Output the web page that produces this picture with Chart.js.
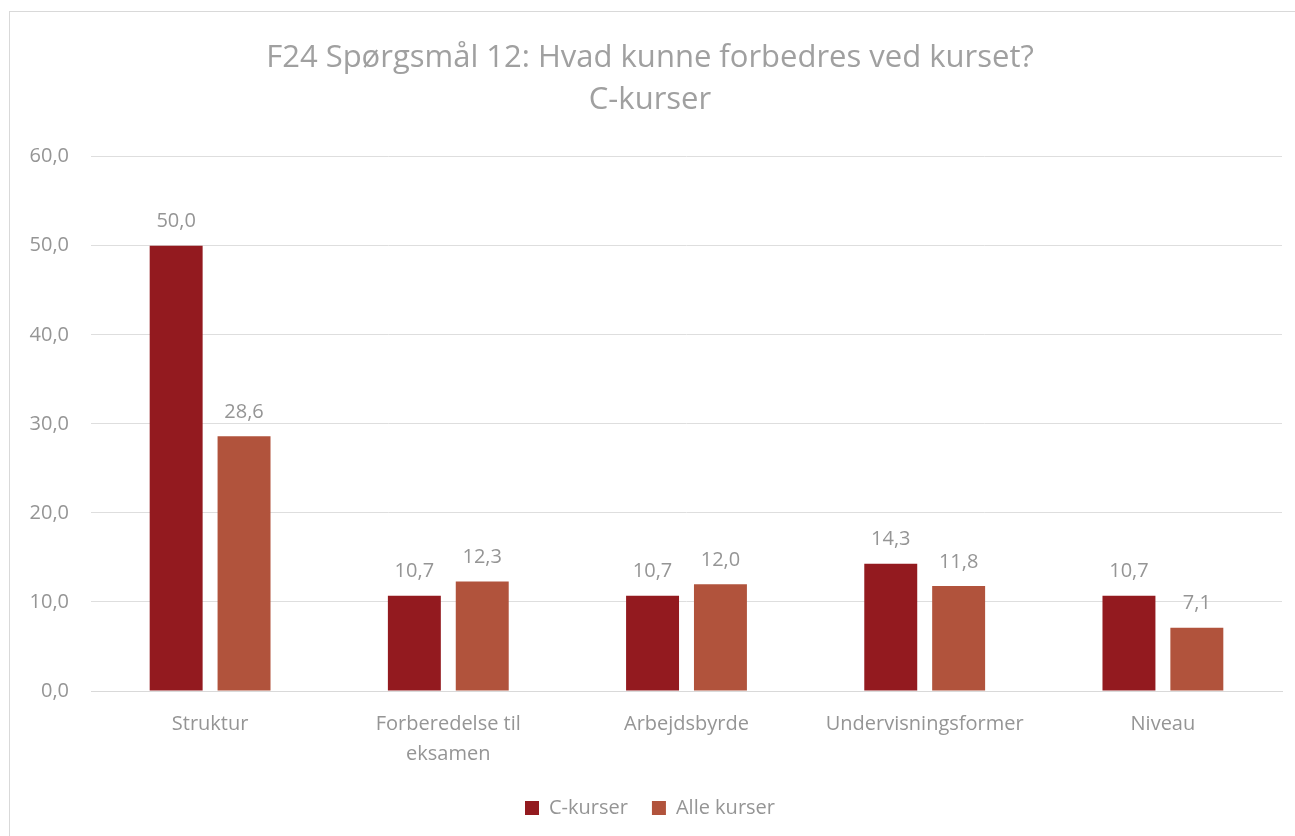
<!DOCTYPE html>
<html>
<head>
<meta charset="utf-8">
<script src="https://cdn.jsdelivr.net/npm/chart.js@4.4.1/dist/chart.umd.min.js"></script>
<style>
html,body{margin:0;padding:0;background:#fff;}
#wrap{position:absolute;left:0;top:0;width:1295px;height:836px;}
#frame{position:absolute;left:9px;top:11px;width:1300px;height:840px;border:1px solid #d9d9d9;box-sizing:border-box;}
canvas{position:absolute;left:0;top:0;}
</style>
</head>
<body>
<div id="wrap">
<div id="frame"></div>
<canvas id="c" width="1295" height="836"></canvas>
</div>
<script>
const categories = ['Struktur', ['Forberedelse til', 'eksamen'], 'Arbejdsbyrde', 'Undervisningsformer', 'Niveau'];
const seriesNames = ['C-kurser', 'Alle kurser'];
const cKurser = [50.0, 10.7, 10.7, 14.3, 10.7];
const alleKurser = [28.6, 12.3, 12.0, 11.8, 7.1];
const yTicks = [0, 10, 20, 30, 40, 50, 60];
const titleLines = ['F24 Spørgsmål 12: Hvad kunne forbedres ved kurset?', 'C-kurser'];

const fmt = v => v.toFixed(1).replace('.', ',');
const FONT = "'Open Sans', 'Noto Sans', sans-serif";
const GRAY = '#959595';

const labelPlugin = {
  id: 'valueLabels',
  afterDatasetsDraw(chart) {
    const ctx = chart.ctx;
    ctx.save();
    ctx.font = '20px ' + FONT;
    ctx.fillStyle = GRAY;
    ctx.textAlign = 'center';
    ctx.textBaseline = 'middle';
    chart.data.datasets.forEach((ds, i) => {
      chart.getDatasetMeta(i).data.forEach((bar, j) => {
        ctx.fillText(fmt(ds.data[j]), bar.x, bar.y - 24);
      });
    });
    ctx.restore();
  }
};

new Chart(document.getElementById('c'), {
  type: 'bar',
  data: {
    labels: categories,
    datasets: [
      { label: seriesNames[0], data: cKurser, backgroundColor: '#931a1f' },
      { label: seriesNames[1], data: alleKurser, backgroundColor: '#b1533c' }
    ]
  },
  options: {
    responsive: false,
    animation: false,
    devicePixelRatio: 1,
    layout: { padding: { left: 18, right: 13, top: 37, bottom: 8 } },
    datasets: { bar: { categoryPercentage: 0.57, barPercentage: 0.78 } },
    plugins: {
      title: {
        display: true,
        text: titleLines,
        color: '#a0a0a0',
        font: { family: FONT, size: 31, weight: 'normal', lineHeight: 1.35 },
        padding: { top: 0, bottom: 36 }
      },
      legend: {
        position: 'bottom',
        labels: {
          color: GRAY,
          font: { family: FONT, size: 20 },
          boxWidth: 14, boxHeight: 14,
          padding: 24
        }
      },
      tooltip: { enabled: false }
    },
    scales: {
      x: {
        grid: { display: false },
        border: { display: true, color: '#d9d9d9' },
        afterFit(scale) { scale.height = 83; },
        ticks: { color: GRAY, font: { family: FONT, size: 20, lineHeight: 1.5 }, padding: 10, maxRotation: 0 }
      },
      y: {
        min: 0, max: 60,
        afterBuildTicks(scale) { scale.ticks = yTicks.map(v => ({ value: v })); },
        afterFit(scale) { scale.width = 73; },
        grid: { color: '#dedede', drawTicks: true, tickLength: 20, tickColor: '#ffffff' },
        border: { display: false },
        ticks: { color: GRAY, font: { family: FONT, size: 20 }, padding: 2, callback: v => fmt(v) }
      }
    }
  },
  plugins: [labelPlugin]
});
</script>
</body>
</html>
